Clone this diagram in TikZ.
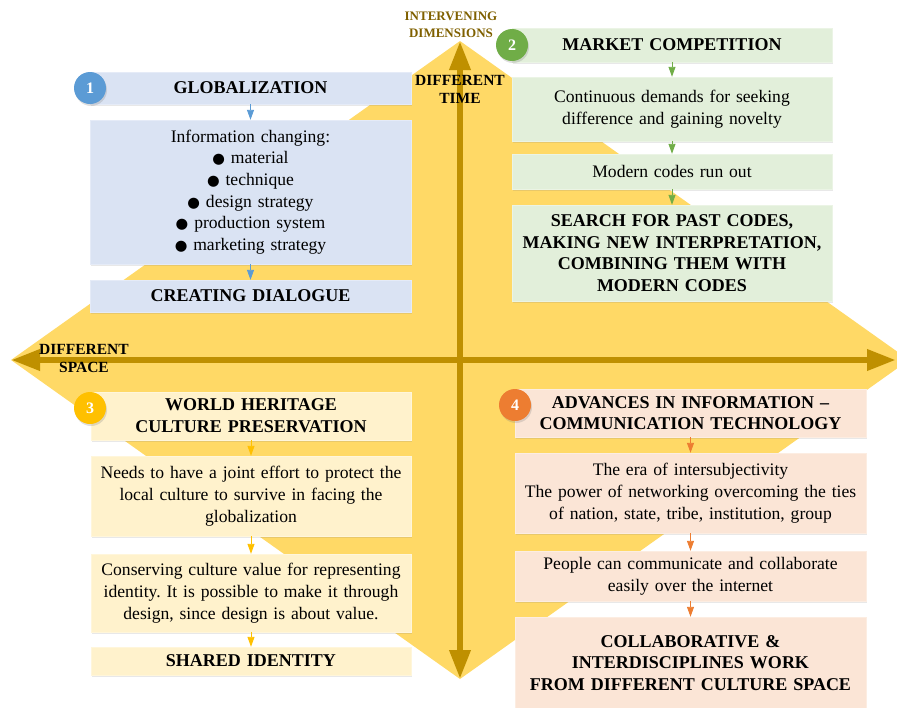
\documentclass[tikz,border=0pt]{standalone}
\usepackage{fontspec}
\setmainfont{Liberation Serif}
\newfontfamily\dejavu{DejaVu Sans}
\usetikzlibrary{arrows.meta,shadows}
\definecolor{diafill}{HTML}{FFD966}
\definecolor{gold}{HTML}{BF9000}
\definecolor{brownt}{HTML}{7F6000}
\definecolor{bluef}{HTML}{DAE3F3}
\definecolor{bluec}{HTML}{5B9BD5}
\definecolor{greenf}{HTML}{E2EFDA}
\definecolor{greenc}{HTML}{70AD47}
\definecolor{yellf}{HTML}{FFF2CC}
\definecolor{yellc}{HTML}{FFC000}
\definecolor{peachf}{HTML}{FBE5D6}
\definecolor{peachc}{HTML}{ED7D31}
\newcommand{\bul}{{\dejavu\fontsize{14.5}{14}\selectfont ●}\ }
\frenchspacing
\begin{document}
\begin{tikzpicture}[x=1pt,y=-1pt,
  every node/.style={font=\fontsize{17.6}{21.7}\selectfont},
  box/.style={rectangle, inner sep=0pt, align=center, draw=#1!70!white, line width=0.4pt,
    drop shadow={opacity=0.18, shadow xshift=1pt, shadow yshift=-1.5pt}},
  qa/.style={box=bluef, fill=bluef, minimum width=321pt, text width=317pt},
  qb/.style={box=greenf, fill=greenf, minimum width=320pt, text width=316pt},
  qc/.style={box=yellf, fill=yellf, minimum width=320pt, text width=316pt},
  qd/.style={box=peachf, fill=peachf, minimum width=351pt, text width=347pt},
  hd/.style={font=\bfseries\fontsize{18}{21.7}\selectfont},
  numc/.style={circle, minimum size=32pt, inner sep=0pt, text=white,
    font=\bfseries\fontsize{16}{16}\selectfont,
    drop shadow={opacity=0.25, shadow xshift=1pt, shadow yshift=-2pt}},
  conn/.style={-{Triangle[width=7pt,length=10pt]}, line width=0.9pt},
  bigarrow/.style={draw=gold, line width=6.5pt,
    {Triangle[width=20pt,length=29pt]}-{Triangle[width=20pt,length=29pt]}},
  lbl/.style={font=\bfseries\fontsize{15.5}{18}\selectfont, align=center, inner sep=0pt}
]
\useasboundingbox (0,0) rectangle (897,707);
\clip (0,0) rectangle (897,707);
% diamond
\fill[diafill] (460,41) -- (909,360) -- (460,679) -- (11,360) -- cycle;
\coordinate (T) at (460,41);
\coordinate (B) at (460,679);
\coordinate (L) at (11,360);
\coordinate (R) at (896,360);
\draw[bigarrow] (T) -- (B);
\draw[bigarrow] (L) -- (R);
% axis labels
\node[font=\bfseries\fontsize{13}{17}\selectfont, text=brownt, align=center, inner sep=0pt] (iv) at (451,25) {INTERVENING\\DIMENSIONS};
\node[lbl] (dt) at (460,89) {DIFFERENT\\TIME};
\node[lbl] (ds) at (84,358) {DIFFERENT\\SPACE};

% Quadrant 1
\node[qa, minimum height=32pt, hd] (a1) at (250.5,88) {GLOBALIZATION};
\node[qa, minimum height=144pt] (a2) at (250.5,192) {Information changing:\\
\bul material\\ \bul technique\\ \bul design strategy\\ \bul production system\\ \bul marketing strategy};
\node[qa, minimum height=32pt, hd] (a3) at (250.5,296) {CREATING DIALOGUE};
\draw[conn, bluec] (a1) -- (a2);
\draw[conn, bluec] (a2) -- (a3);
\node[numc, fill=bluec] (n1) at (90,88) {1};

% Quadrant 2
\node[qb, minimum height=34pt, hd] (b1) at (672,45) {MARKET COMPETITION};
\node[qb, minimum height=64pt] (b2) at (672,109) {Continuous demands for seeking\\difference and gaining novelty};
\node[qb, minimum height=35pt] (b3) at (672,171.5) {Modern codes run out};
\node[qb, minimum height=96pt, hd] (b4) at (672,253) {SEARCH FOR PAST CODES,\\MAKING NEW INTERPRETATION,\\COMBINING THEM WITH\\MODERN CODES};
\draw[conn, greenc] (b1) -- (b2);
\draw[conn, greenc] (b2) -- (b3);
\draw[conn, greenc] (b3) -- (b4);
\node[numc, fill=greenc] (n2) at (512,45) {2};

% Quadrant 3
\node[qc, minimum height=48pt, hd] (c1) at (251,416) {WORLD HERITAGE\\CULTURE PRESERVATION};
\node[qc, minimum height=80pt] (c2) at (251,496) {Needs to have a joint effort to protect the\\local culture to survive in facing the\\globalization};
\node[qc, minimum height=78pt] (c3) at (251,593) {Conserving culture value for representing\\identity. It is possible to make it through\\design, since design is about value.};
\node[qc, minimum height=28pt, hd] (c4) at (251,661) {SHARED IDENTITY};
\draw[conn, yellc] (c1) -- (c2);
\draw[conn, yellc] (c2) -- (c3);
\draw[conn, yellc] (c3) -- (c4);
\node[numc, fill=yellc] (n3) at (90,408) {3};

% Quadrant 4
\node[qd, minimum height=48pt, hd] (d1) at (690.5,413) {ADVANCES IN INFORMATION --\\COMMUNICATION TECHNOLOGY};
\node[qd, minimum height=80pt] (d2) at (690.5,493) {The era of intersubjectivity\\The power of networking overcoming the ties\\of nation, state, tribe, institution, group};
\node[qd, minimum height=50pt] (d3) at (690.5,576) {People can communicate and collaborate\\easily over the internet};
\node[qd, minimum height=92pt, hd] (d4) at (690.5,663) {COLLABORATIVE \&\\INTERDISCIPLINES WORK\\FROM DIFFERENT CULTURE SPACE};
\draw[conn, peachc] (d1) -- (d2);
\draw[conn, peachc] (d2) -- (d3);
\draw[conn, peachc] (d3) -- (d4);
\node[numc, fill=peachc] (n4) at (515,405) {4};
\end{tikzpicture}
\end{document}
